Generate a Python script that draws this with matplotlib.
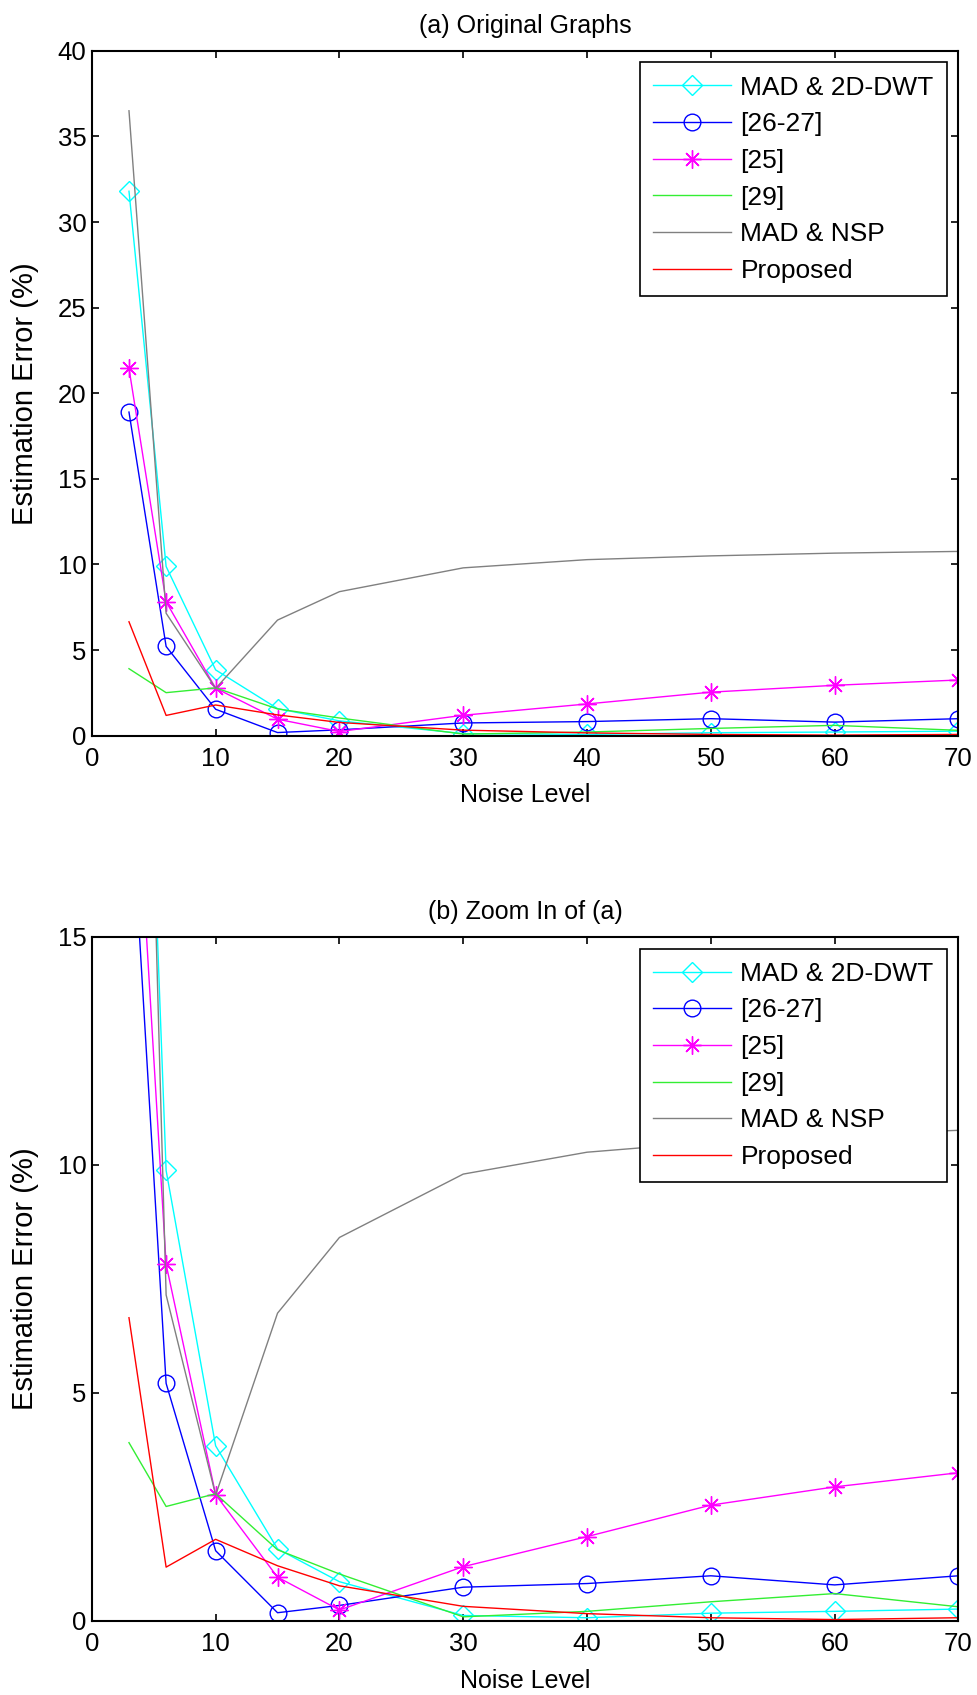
import numpy as np
import matplotlib
matplotlib.use("Agg")
import matplotlib.pyplot as plt

plt.rcParams['font.family'] = ['Liberation Sans', 'DejaVu Sans']

noise = [3, 6, 10, 15, 20, 30, 40, 50, 60, 70]

mad_dwt = [31.8, 9.88, 3.84, 1.58, 0.86, 0.12, 0.07, 0.17, 0.21, 0.26]
ref_26_27 = [18.9, 5.21, 1.54, 0.18, 0.34, 0.74, 0.82, 0.99, 0.79, 0.99]
ref_25 = [21.45, 7.82, 2.77, 0.96, 0.24, 1.19, 1.85, 2.54, 2.94, 3.25]
ref_29 = [3.91, 2.51, 2.79, 1.56, 1.03, 0.09, 0.21, 0.42, 0.60, 0.31]
mad_nsp = [36.5, 7.15, 2.76, 6.75, 8.41, 9.80, 10.28, 10.50, 10.66, 10.76]
proposed = [6.65, 1.18, 1.79, 1.21, 0.77, 0.32, 0.16, 0.07, 0.03, 0.07]

titles = ['(a) Original Graphs', '(b) Zoom In of (a)']
ylims = [40, 15]

fig = plt.figure(figsize=(9.77, 16.95), dpi=100)
ax1 = fig.add_axes([0.094, 0.566, 0.887, 0.404])
ax2 = fig.add_axes([0.094, 0.0437, 0.887, 0.4035])

for ax, title, ytop in zip([ax1, ax2], titles, ylims):
    ax.plot(noise, mad_dwt, color='#00ffff', lw=1.0, marker='D', ms=10.5,
            mfc='none', mec='#00ffff', label='MAD & 2D-DWT')
    ax.plot(noise, ref_26_27, color='#0000ff', lw=1.0, marker='o', ms=12,
            mfc='none', mec='#0000ff', label='[26-27]')
    ax.plot(noise, ref_25, color='#ff00ff', lw=1.0, marker=(8, 2, 0), ms=13,
            mec='#ff00ff', mew=1.0, label='[25]')
    ax.plot(noise, ref_29, color='#33ee33', lw=1.0, label='[29]')
    ax.plot(noise, mad_nsp, color='#808080', lw=1.0, label='MAD & NSP')
    ax.plot(noise, proposed, color='#ff0000', lw=1.0, label='Proposed')

    ax.set_xlim(0, 70)
    ax.set_ylim(0, ytop)
    ax.set_xticks(range(0, 71, 10))
    ax.set_yticks(range(0, ytop + 1, 5))
    ax.tick_params(direction='in', top=True, right=True, labelsize=18.5,
                   length=5, width=1.2)
    ax.tick_params(axis='x', pad=8)
    ax.tick_params(axis='y', pad=4)
    for s in ax.spines.values():
        s.set_linewidth(1.5)
    ax.set_title(title, fontsize=18, pad=13)
    ax.set_xlabel('Noise Level', fontsize=18, labelpad=9)
    ax.set_ylabel('Estimation Error (%)', fontsize=21, labelpad=13)

    leg = ax.legend(loc='upper right', fontsize=19, handlelength=2.95,
                    labelspacing=0.48, borderaxespad=0.44, fancybox=False,
                    framealpha=1, edgecolor='black', borderpad=0.5,
                    handletextpad=0.37)
    leg.get_frame().set_linewidth(1.2)

fig.savefig('out.png', dpi=100)
